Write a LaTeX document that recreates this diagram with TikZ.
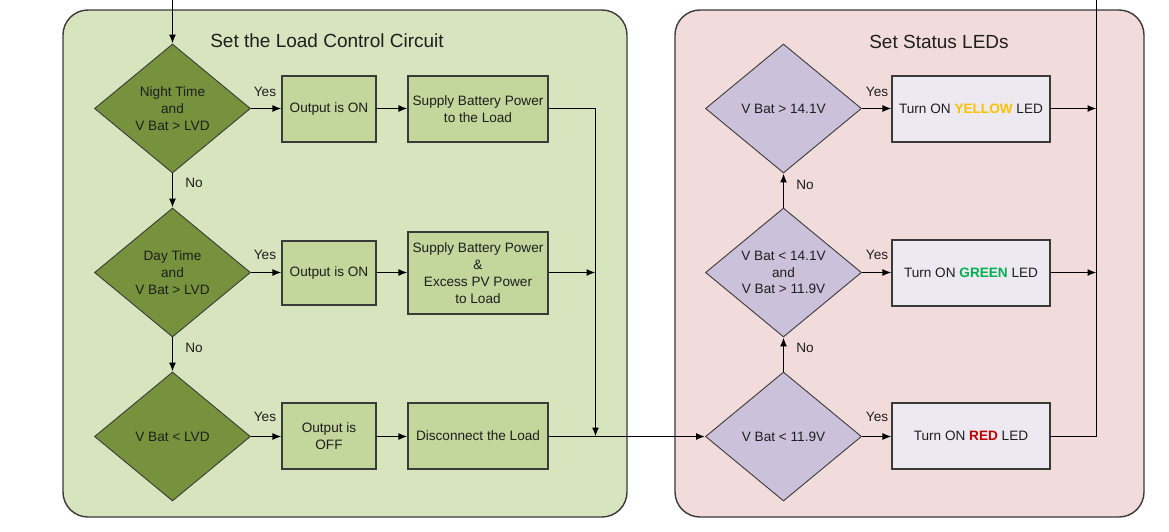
\documentclass[tikz,border=0pt]{standalone}
\usepackage{fontspec}
\setmainfont{Liberation Sans}
\usetikzlibrary{arrows.meta,shapes.geometric}
\definecolor{panelG}{HTML}{D8E4BE}
\definecolor{panelR}{HTML}{F2DCDB}
\definecolor{diaG}{HTML}{76923C}
\definecolor{boxG}{HTML}{C3D69B}
\definecolor{diaP}{HTML}{CCC1DA}
\definecolor{boxP}{HTML}{ECE9F1}
\definecolor{ledY}{HTML}{FFC000}
\definecolor{ledG}{HTML}{00B050}
\definecolor{ledR}{HTML}{C00000}
\definecolor{inkc}{HTML}{1E1E1E}
\definecolor{edgec}{HTML}{3A3A3A}
\begin{document}
\begin{tikzpicture}[x=1pt,y=-1pt,
  txt/.style={font=\fontsize{13.6}{16.8}\selectfont, text=inkc, align=center},
  panel/.style={draw=edgec, line width=1.4pt, rounded corners=25pt},
  dec/.style={txt, shape=diamond, draw=edgec, line width=0.9pt, inner sep=0pt,
     minimum width=156pt, minimum height=129pt, aspect=1.2},
  decG/.style={dec, fill=diaG},
  decP/.style={dec, fill=diaP},
  boxg/.style={txt, draw=edgec, line width=1.1pt, fill=boxG, inner sep=0pt, minimum height=66pt},
  boxp/.style={txt, draw=edgec, line width=1.1pt, fill=boxP, inner sep=0pt, minimum width=158pt, minimum height=66pt},
  conn/.style={draw=black, line width=1.4pt},
  arr/.style={conn, -{Latex[length=9pt,width=7pt]}},
  lbl/.style={txt, inner sep=0pt},
  ttl/.style={font=\fontsize{19}{22}\selectfont, text=inkc, inner sep=0pt}
]
\useasboundingbox (0,0) rectangle (1169,531);
\fill[white] (0,0) rectangle (1169,531);

% panels
\draw[panel, fill=panelG] (63,10) rectangle (627,517);
\draw[panel, fill=panelR] (675,10) rectangle (1144,517);
\node[ttl] (t1) at (327,41) {Set the Load Control Circuit};
\node[ttl] (t2) at (939,42) {Set Status LEDs};

% left column
\node[decG] (d1) at (172.5,108.5) {Night Time\\and\\V Bat > LVD};
\node[decG] (d2) at (172.5,272.5) {Day Time\\and\\V Bat > LVD};
\node[decG] (d3) at (172.5,436.5) {V Bat < LVD};

\node[boxg, minimum width=94pt] (b1a) at (329,109) {Output is ON};
\node[boxg, minimum width=140pt] (b1b) at (478,109) {Supply Battery Power\\to the Load};
\node[boxg, minimum width=94pt, minimum height=64pt] (b2a) at (329,273) {Output is ON};
\node[boxg, minimum width=140pt, minimum height=82pt] (b2b) at (478,273) {Supply Battery Power\\\&\\Excess PV Power\\to Load};
\node[boxg, minimum width=94pt] (b3a) at (329,436) {Output is\\OFF};
\node[boxg, minimum width=140pt] (b3b) at (478,436) {Disconnect the Load};

% right column
\node[decP] (r1) at (783.5,108.5) {V Bat > 14.1V};
\node[decP] (r2) at (783.5,272.5) {V Bat < 14.1V\\and\\V Bat > 11.9V};
\node[decP] (r3) at (783.5,436.5) {V Bat < 11.9V};

\node[boxp] (ly) at (971,109) {Turn ON \textcolor{ledY}{\bfseries YELLOW} LED};
\node[boxp] (lg) at (971,273) {Turn ON \textcolor{ledG}{\bfseries GREEN} LED};
\node[boxp] (lr) at (971,436) {Turn ON \textcolor{ledR}{\bfseries RED} LED};

% junction coordinates
\coordinate (top1) at (172.5,0);
\coordinate (jL1) at (595.5,108.5);
\coordinate (jL2) at (595.5,272.5);
\coordinate (jL3) at (595.5,436.5);
\coordinate (jR1) at (1096.5,108.5);
\coordinate (jR2) at (1096.5,272.5);
\coordinate (jR3) at (1096.5,436.5);
\coordinate (top2) at (1096.5,0);

% left connectors
\draw[arr] (top1) -- (d1.north);
\draw[arr] (d1.south) -- (d2.north);
\draw[arr] (d2.south) -- (d3.north);
\draw[arr] (d1.east) -- (b1a.west |- d1.east);
\draw[arr] (d2.east) -- (b2a.west |- d2.east);
\draw[arr] (d3.east) -- (b3a.west |- d3.east);
\draw[arr] (b1a.east |- d1.east) -- (b1b.west |- d1.east);
\draw[arr] (b2a.east |- d2.east) -- (b2b.west |- d2.east);
\draw[arr] (b3a.east |- d3.east) -- (b3b.west |- d3.east);
\draw[arr] (b1b.east |- jL1) -- (jL1) -- (jL3);
\draw[arr] (b2b.east |- jL2) -- (jL2);
\draw[arr] (b3b.east |- jL3) -- (r3.west);

% right connectors
\draw[arr] (r3.north) -- (r2.south);
\draw[arr] (r2.north) -- (r1.south);
\draw[arr] (r1.east) -- (ly.west |- r1.east);
\draw[arr] (r2.east) -- (lg.west |- r2.east);
\draw[arr] (r3.east) -- (lr.west |- r3.east);
\draw[arr] (ly.east |- jR1) -- (jR1);
\draw[arr] (lg.east |- jR2) -- (jR2);
\draw[conn] (lr.east |- jR3) -- (jR3) -- (top2);

% labels
\node[lbl] (y1) at (265,92) {Yes};
\node[lbl] (y2) at (265,255) {Yes};
\node[lbl] (y3) at (265,417) {Yes};
\node[lbl] (y4) at (877,92) {Yes};
\node[lbl] (y5) at (877,255) {Yes};
\node[lbl] (y6) at (877,417) {Yes};
\node[lbl] (n1) at (194,183) {No};
\node[lbl] (n2) at (194,348) {No};
\node[lbl] (n3) at (805,185) {No};
\node[lbl] (n4) at (805,348) {No};
\end{tikzpicture}
\end{document}
